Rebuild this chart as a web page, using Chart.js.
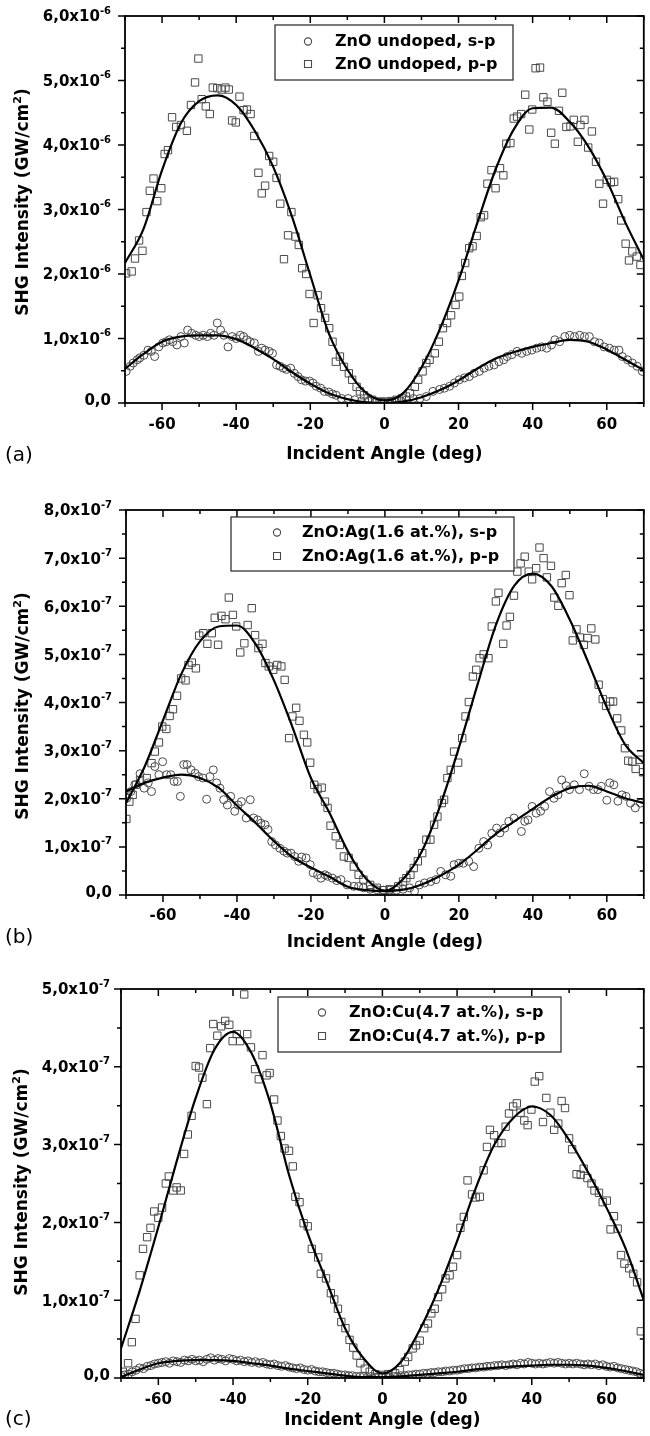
<!DOCTYPE html>
<html>
<head>
<meta charset="utf-8">
<script src="https://cdn.jsdelivr.net/npm/chart.js@4.4.0/dist/chart.umd.min.js"></script>
<style>
  body { margin: 0; background: #fff; }
  canvas { position: absolute; left: 0; }
</style>
</head>
<body>
<canvas id="chartA" width="650" height="470" style="top:0px"></canvas>
<canvas id="chartB" width="650" height="490" style="top:470px"></canvas>
<canvas id="chartC" width="650" height="486" style="top:950px"></canvas>
<script>
// common axis ticks
const xTicks = [-60, -40, -20, 0, 20, 40, 60];

// (a) ZnO undoped, values in 1e-6 GW/cm2, [angle, intensity]
const aYTicks = [0, 1, 2, 3, 4, 5, 6];
const aSP = [[-69.7,0.49],[-68.6,0.57],[-67.8,0.62],[-66.7,0.67],[-66.0,0.70],[-64.9,0.74],[-63.8,0.82],[-62.9,0.80],[-62.0,0.72],[-60.9,0.87],[-59.8,0.93],[-58.9,0.95],[-58.0,0.98],[-57.1,0.95],[-56.0,0.90],[-54.9,1.03],[-54.0,0.93],[-53.1,1.13],[-52.0,1.08],[-50.9,1.05],[-50.0,1.03],[-48.9,1.05],[-47.8,1.03],[-46.9,1.08],[-46.0,1.05],[-45.1,1.24],[-44.2,1.13],[-43.3,1.05],[-42.2,0.87],[-41.1,1.03],[-40.0,1.00],[-38.9,1.05],[-38.0,1.03],[-37.1,0.98],[-36.2,0.95],[-35.1,0.93],[-34.0,0.80],[-33.1,0.85],[-32.2,0.82],[-31.1,0.80],[-30.2,0.77],[-29.1,0.59],[-28.2,0.57],[-27.3,0.54],[-26.4,0.52],[-25.3,0.54],[-24.3,0.46],[-23.3,0.41],[-22.4,0.36],[-21.3,0.34],[-20.2,0.34],[-19.3,0.31],[-18.4,0.26],[-17.2,0.23],[-16.2,0.18],[-15.0,0.17],[-14.0,0.14],[-13.0,0.12],[-11.6,0.07],[-9.8,0.07],[-8.0,0.05],[-6.2,0.03],[-4.4,0.03],[-2.5,0.01],[-0.5,0.01],[1.5,0.01],[3.0,0.02],[4.5,0.03],[6.0,0.05],[7.8,0.07],[9.6,0.07],[11.3,0.10],[13.1,0.18],[14.9,0.21],[16.2,0.23],[17.6,0.26],[18.9,0.31],[20.2,0.36],[21.6,0.39],[22.9,0.41],[24.2,0.46],[25.6,0.49],[26.9,0.54],[28.2,0.57],[29.6,0.59],[30.9,0.64],[32.2,0.67],[33.1,0.72],[34.4,0.75],[35.8,0.80],[37.1,0.77],[38.4,0.80],[39.8,0.82],[41.1,0.85],[42.4,0.87],[43.8,0.85],[45.1,0.90],[46.0,0.98],[47.3,0.95],[48.7,1.03],[50.0,1.05],[51.3,1.03],[52.7,1.05],[54.0,1.03],[55.3,1.03],[56.7,0.95],[58.0,0.93],[59.3,0.87],[60.7,0.85],[62.0,0.82],[63.3,0.82],[64.2,0.72],[65.6,0.67],[66.9,0.62],[68.2,0.57],[69.6,0.49]];
const aPP = [[-69.7,2.01],[-68.2,2.04],[-67.3,2.24],[-66.2,2.52],[-65.3,2.36],[-64.2,2.96],[-63.3,3.29],[-62.3,3.48],[-61.3,3.13],[-60.2,3.33],[-59.3,3.86],[-58.4,3.92],[-57.3,4.43],[-56.2,4.28],[-54.9,4.31],[-53.3,4.22],[-52.2,4.62],[-51.1,4.97],[-50.2,5.34],[-49.3,4.71],[-48.2,4.60],[-47.1,4.48],[-46.3,4.89],[-45.1,4.88],[-43.9,4.86],[-42.9,4.89],[-42.0,4.86],[-41.1,4.38],[-40.1,4.35],[-39.1,4.75],[-38.0,4.54],[-37.1,4.55],[-36.1,4.48],[-35.1,4.14],[-34.0,3.57],[-33.1,3.25],[-32.2,3.37],[-31.1,3.83],[-30.0,3.74],[-29.1,3.49],[-28.1,3.09],[-27.1,2.23],[-26.0,2.60],[-25.1,2.96],[-24.0,2.58],[-23.1,2.45],[-22.2,2.09],[-21.1,2.00],[-20.2,1.69],[-19.1,1.24],[-18.0,1.67],[-17.1,1.47],[-16.0,1.32],[-14.9,1.16],[-14.0,0.95],[-13.1,0.64],[-12.0,0.72],[-10.9,0.56],[-9.6,0.46],[-8.7,0.36],[-7.5,0.25],[-6.6,0.18],[-5.5,0.12],[-4.5,0.07],[-3.3,0.05],[-2.0,0.02],[-1.0,0.02],[0.0,0.02],[1.0,0.02],[2.0,0.03],[3.3,0.05],[4.7,0.07],[5.8,0.10],[6.9,0.15],[8.2,0.25],[9.1,0.36],[10.3,0.49],[11.3,0.62],[12.2,0.67],[13.6,0.77],[14.7,0.95],[15.8,1.16],[16.9,1.24],[18.0,1.36],[19.2,1.52],[20.2,1.65],[20.9,1.97],[21.8,2.17],[22.9,2.40],[23.8,2.43],[24.9,2.59],[26.0,2.88],[26.9,2.91],[27.8,3.40],[28.9,3.61],[30.0,3.33],[31.2,3.64],[32.1,3.53],[32.9,4.02],[34.0,4.03],[34.9,4.41],[35.8,4.44],[36.9,4.48],[38.0,4.78],[39.1,4.24],[39.9,4.55],[40.8,5.19],[42.0,5.20],[42.9,4.74],[44.0,4.67],[45.0,4.19],[46.0,4.02],[47.1,4.53],[48.0,4.81],[49.1,4.28],[50.2,4.29],[51.1,4.39],[52.2,4.05],[52.9,4.31],[54.0,4.39],[55.0,3.96],[56.0,4.21],[57.1,3.74],[58.0,3.40],[59.0,3.09],[60.0,3.46],[61.1,3.42],[62.0,3.43],[63.1,3.16],[63.9,2.83],[65.1,2.47],[66.0,2.21],[66.9,2.35],[68.1,2.27],[69.1,2.14]];
const aFitSP = [[-70,0.53],[-65,0.76],[-60,0.95],[-55,1.03],[-50,1.05],[-45,1.05],[-40,0.99],[-35,0.85],[-30,0.68],[-25,0.48],[-20,0.30],[-15,0.15],[-10,0.06],[-5,0.01],[0,0.0],[5,0.02],[10,0.09],[15,0.20],[20,0.35],[25,0.53],[30,0.69],[35,0.79],[40,0.87],[45,0.93],[50,0.98],[55,0.95],[60,0.83],[65,0.67],[70,0.51]];
const aFitPP = [[-70,2.17],[-65,2.70],[-60,3.61],[-55,4.33],[-50,4.68],[-45,4.77],[-40,4.62],[-35,4.22],[-30,3.66],[-25,2.90],[-20,1.98],[-15,1.08],[-10,0.52],[-5,0.16],[0,0.04],[5,0.15],[10,0.55],[15,1.15],[20,1.90],[25,2.78],[30,3.62],[35,4.25],[40,4.57],[45,4.58],[50,4.36],[55,3.98],[60,3.45],[65,2.80],[70,2.22]];

// (b) ZnO:Ag(1.6 at.%), values in 1e-7 GW/cm2
const bYTicks = [0, 1, 2, 3, 4, 5, 6, 7, 8];
const bSP = [[-69.8,2.01],[-68.7,2.15],[-67.6,2.29],[-66.2,2.52],[-65.1,2.22],[-64.0,2.33],[-63.1,2.15],[-62.2,2.67],[-61.1,2.50],[-60.1,2.77],[-59.0,2.50],[-57.9,2.50],[-57.0,2.36],[-56.1,2.36],[-55.3,2.05],[-54.4,2.71],[-53.5,2.71],[-52.4,2.60],[-51.3,2.53],[-50.4,2.46],[-49.2,2.43],[-48.2,1.99],[-47.3,2.46],[-46.4,2.60],[-45.5,2.33],[-44.6,2.22],[-43.6,1.98],[-42.6,1.87],[-41.7,2.05],[-40.6,1.74],[-39.7,1.87],[-38.8,1.94],[-37.5,1.60],[-36.4,1.98],[-35.5,1.60],[-34.4,1.56],[-33.5,1.49],[-32.4,1.46],[-31.6,1.36],[-30.6,1.11],[-29.6,1.04],[-28.4,0.97],[-27.3,0.91],[-26.4,0.87],[-25.4,0.87],[-24.4,0.80],[-23.3,0.70],[-22.5,0.79],[-21.3,0.77],[-20.2,0.63],[-19.4,0.46],[-18.2,0.42],[-17.3,0.35],[-16.2,0.42],[-15.5,0.39],[-14.2,0.35],[-13.0,0.30],[-11.9,0.32],[-10.2,0.21],[-8.4,0.18],[-7.1,0.18],[-5.8,0.15],[-4.0,0.12],[-2.2,0.11],[-0.4,0.10],[1.3,0.10],[3.1,0.10],[4.9,0.12],[6.7,0.15],[8.0,0.08],[9.3,0.21],[10.7,0.25],[12.4,0.28],[13.8,0.32],[15.1,0.49],[16.4,0.42],[17.8,0.39],[18.7,0.63],[20.0,0.66],[21.2,0.66],[22.7,0.70],[24.0,0.59],[25.4,0.97],[26.7,1.11],[27.8,1.04],[28.9,1.28],[30.2,1.39],[31.1,1.29],[32.4,1.39],[33.5,1.53],[34.9,1.60],[36.9,1.32],[37.8,1.53],[38.7,1.56],[39.8,1.84],[40.9,1.70],[42.1,1.74],[43.2,1.84],[44.5,2.15],[45.7,2.01],[46.8,2.08],[47.8,2.39],[49.0,2.27],[49.9,2.19],[51.2,2.29],[52.6,2.19],[53.9,2.52],[55.2,2.26],[56.4,2.19],[57.6,2.19],[58.5,2.26],[60.0,1.97],[60.8,2.33],[61.9,2.29],[63.0,1.95],[64.1,2.08],[65.2,2.05],[66.4,1.91],[67.7,1.81],[69.1,1.91]];
const bPP = [[-69.9,1.58],[-69.1,1.94],[-68.2,2.08],[-67.3,2.29],[-66.2,2.39],[-64.4,2.43],[-63.1,2.74],[-62.2,2.98],[-61.1,3.17],[-60.2,3.50],[-59.1,3.45],[-58.2,3.72],[-57.3,3.86],[-56.2,4.14],[-55.1,4.50],[-53.9,4.46],[-53.1,4.78],[-52.2,4.83],[-51.1,4.71],[-50.2,5.39],[-49.1,5.44],[-48.0,5.22],[-46.8,5.44],[-46.0,5.76],[-45.1,5.20],[-44.2,5.80],[-43.1,5.73],[-42.2,6.18],[-41.1,5.82],[-40.2,5.58],[-39.1,5.04],[-38.0,5.23],[-37.1,5.61],[-36.0,5.96],[-35.1,5.40],[-34.2,5.13],[-33.1,5.22],[-32.3,4.82],[-31.4,4.75],[-30.2,4.68],[-29.1,4.78],[-28.0,4.75],[-27.1,4.47],[-25.9,3.26],[-25.0,3.71],[-24.0,3.89],[-23.1,3.62],[-21.9,3.33],[-21.0,3.17],[-20.2,2.75],[-19.1,2.29],[-18.2,2.20],[-17.1,2.23],[-16.2,1.94],[-15.5,1.81],[-14.7,1.44],[-13.3,1.22],[-12.2,1.04],[-11.1,0.80],[-9.8,0.77],[-8.4,0.59],[-7.1,0.42],[-5.8,0.32],[-4.0,0.21],[-2.2,0.15],[-0.4,0.10],[1.3,0.12],[3.6,0.18],[4.9,0.28],[5.8,0.35],[6.9,0.42],[7.8,0.56],[8.9,0.70],[10.1,0.87],[11.2,1.15],[12.3,1.15],[13.3,1.46],[14.2,1.63],[15.4,1.91],[16.0,1.98],[16.9,2.43],[17.8,2.60],[18.7,2.98],[19.8,2.75],[20.9,3.26],[21.8,3.71],[22.7,4.01],[23.8,4.54],[24.7,4.68],[25.6,4.92],[26.7,5.00],[28.0,4.92],[28.9,5.58],[30.0,6.10],[30.7,6.28],[32.0,5.22],[32.9,5.60],[33.8,5.78],[34.9,6.22],[35.8,6.72],[36.7,6.89],[37.8,7.03],[38.9,6.72],[39.8,6.56],[40.9,6.79],[41.8,7.22],[42.9,7.00],[43.8,6.60],[44.9,6.84],[45.8,6.18],[46.9,6.01],[47.8,6.48],[48.9,6.65],[49.9,6.23],[50.8,5.29],[51.8,5.52],[52.7,5.35],[53.8,5.20],[54.8,5.34],[55.8,5.54],[56.9,5.31],[57.8,4.37],[58.9,4.07],[59.8,3.93],[60.9,4.02],[61.7,4.02],[62.8,3.67],[63.9,3.42],[64.9,3.05],[65.8,2.79],[66.9,2.77],[67.8,2.62],[68.9,2.81],[69.8,2.55]];
const bFitSP = [[-70,2.15],[-65,2.33],[-60,2.44],[-55,2.50],[-50,2.43],[-45,2.23],[-40,1.86],[-35,1.50],[-30,1.12],[-25,0.79],[-20,0.57],[-15,0.38],[-10,0.17],[-5,0.10],[0,0.08],[5,0.11],[10,0.22],[15,0.40],[20,0.63],[25,0.94],[30,1.27],[35,1.53],[40,1.79],[45,2.04],[50,2.22],[55,2.27],[60,2.15],[65,2.01],[70,1.91]];
const bFitPP = [[-70,1.91],[-65,2.66],[-60,3.63],[-55,4.60],[-50,5.27],[-45,5.58],[-40,5.60],[-35,5.22],[-30,4.46],[-25,3.49],[-20,2.43],[-15,1.71],[-10,0.91],[-5,0.33],[0,0.09],[5,0.34],[10,0.91],[15,1.87],[20,3.06],[25,4.36],[30,5.61],[35,6.43],[40,6.68],[45,6.42],[50,5.72],[55,4.83],[60,3.90],[65,3.12],[70,2.74]];

// (c) ZnO:Cu(4.7 at.%), values in 1e-7 GW/cm2
const cYTicks = [0, 1, 2, 3, 4, 5];
const cSP = [[-70,0.02],[-69,0.04],[-68,0.05],[-67,0.08],[-66,0.10],[-65,0.13],[-64,0.12],[-63,0.15],[-62,0.16],[-61,0.18],[-60,0.19],[-59,0.20],[-58,0.21],[-57,0.19],[-56,0.22],[-55,0.21],[-54,0.20],[-53,0.23],[-52,0.22],[-51,0.24],[-50,0.22],[-49,0.23],[-48,0.21],[-47,0.24],[-46,0.26],[-45,0.23],[-44,0.25],[-43,0.24],[-42,0.22],[-41,0.25],[-40,0.24],[-39,0.22],[-38,0.23],[-37,0.21],[-36,0.22],[-35,0.20],[-34,0.21],[-33,0.19],[-32,0.20],[-31,0.18],[-30,0.17],[-29,0.18],[-28,0.16],[-27,0.15],[-26,0.16],[-25,0.14],[-24,0.13],[-23,0.12],[-22,0.13],[-21,0.11],[-20,0.10],[-19,0.11],[-18,0.09],[-17,0.08],[-16,0.08],[-15,0.07],[-14,0.06],[-13,0.06],[-12,0.05],[-11,0.04],[-10,0.04],[-9,0.03],[-8,0.03],[-7,0.02],[-6,0.02],[-5,0.02],[-4,0.01],[-3,0.02],[-2,0.01],[-1,0.01],[0,0.01],[1,0.02],[2,0.01],[3,0.02],[4,0.02],[5,0.03],[6,0.03],[7,0.04],[8,0.04],[9,0.05],[10,0.05],[11,0.06],[12,0.06],[13,0.07],[14,0.07],[15,0.08],[16,0.08],[17,0.09],[18,0.09],[19,0.10],[20,0.10],[21,0.11],[22,0.12],[23,0.12],[24,0.13],[25,0.13],[26,0.14],[27,0.14],[28,0.15],[29,0.15],[30,0.16],[31,0.16],[32,0.17],[33,0.16],[34,0.17],[35,0.18],[36,0.17],[37,0.19],[38,0.18],[39,0.20],[40,0.19],[41,0.18],[42,0.19],[43,0.18],[44,0.19],[45,0.20],[46,0.19],[47,0.20],[48,0.19],[49,0.18],[50,0.19],[51,0.18],[52,0.19],[53,0.18],[54,0.17],[55,0.18],[56,0.17],[57,0.18],[58,0.16],[59,0.17],[60,0.15],[61,0.14],[62,0.15],[63,0.13],[64,0.12],[65,0.11],[66,0.10],[67,0.09],[68,0.08],[69,0.06],[70,0.05]];
const cPP = [[-69.5,0.08],[-68.1,0.19],[-67.1,0.46],[-66.1,0.76],[-65.0,1.32],[-64.1,1.66],[-63.0,1.81],[-62.1,1.93],[-61.1,2.14],[-60.0,2.06],[-59.0,2.19],[-58.0,2.50],[-57.2,2.59],[-56.0,2.41],[-55.1,2.45],[-54.0,2.41],[-53.1,2.88],[-52.1,3.13],[-51.1,3.37],[-50.0,4.01],[-49.1,3.99],[-48.2,3.86],[-47.0,3.52],[-46.1,4.24],[-45.3,4.55],[-44.2,4.40],[-43.2,4.52],[-42.1,4.59],[-41.0,4.54],[-40.1,4.33],[-39.0,4.42],[-38.1,4.33],[-37.0,4.93],[-36.2,4.42],[-35.2,4.25],[-34.1,3.97],[-33.1,3.84],[-32.1,4.15],[-31.0,3.89],[-30.2,3.92],[-29.0,3.58],[-28.1,3.31],[-27.2,3.11],[-26.2,2.95],[-25.0,2.92],[-24.0,2.72],[-23.3,2.33],[-22.2,2.26],[-21.1,1.99],[-20.0,1.95],[-18.9,1.66],[-17.2,1.55],[-16.5,1.34],[-15.1,1.28],[-13.8,1.09],[-12.9,1.01],[-11.9,0.89],[-11.0,0.72],[-9.9,0.64],[-8.8,0.49],[-7.8,0.39],[-6.9,0.29],[-5.9,0.19],[-4.7,0.12],[-3.4,0.08],[-1.9,0.05],[-0.1,0.04],[1.6,0.05],[3.4,0.06],[4.7,0.10],[6.0,0.21],[6.9,0.27],[8.1,0.38],[9.0,0.42],[10.0,0.48],[11.2,0.64],[12.2,0.70],[13.1,0.83],[14.0,0.89],[14.9,1.04],[16.0,1.14],[16.9,1.28],[18.0,1.32],[18.9,1.43],[20.0,1.58],[20.9,1.93],[21.8,2.07],[22.8,2.54],[24.0,2.36],[25.0,2.32],[26.1,2.33],[27.1,2.67],[28.0,2.97],[28.8,3.19],[29.9,3.12],[31.0,3.02],[31.9,3.02],[33.0,3.23],[33.9,3.40],[35.0,3.49],[36.0,3.53],[37.0,3.41],[38.0,3.31],[38.9,3.25],[39.9,3.45],[40.8,3.81],[42.0,3.88],[43.0,3.29],[43.9,3.60],[45.0,3.41],[46.0,3.19],[47.1,3.27],[48.0,3.56],[48.9,3.47],[50.0,3.08],[50.8,2.94],[52.0,2.62],[53.1,2.61],[53.9,2.69],[54.9,2.57],[56.0,2.50],[56.8,2.41],[58.0,2.38],[59.0,2.26],[60.1,2.28],[61.1,1.91],[62.0,2.08],[63.0,1.92],[63.9,1.58],[64.8,1.47],[66.1,1.41],[67.2,1.34],[68.2,1.23],[69.2,0.60]];
const cFitSP = [[-70,0.01],[-65,0.11],[-60,0.19],[-55,0.22],[-50,0.23],[-45,0.23],[-40,0.22],[-35,0.19],[-30,0.16],[-25,0.12],[-20,0.09],[-15,0.06],[-10,0.03],[-5,0.01],[0,0.01],[5,0.02],[10,0.04],[15,0.06],[20,0.08],[25,0.11],[30,0.13],[35,0.15],[40,0.16],[45,0.17],[50,0.17],[55,0.16],[60,0.13],[65,0.09],[70,0.04]];
const cFitPP = [[-70,0.38],[-65,1.12],[-60,1.94],[-55,2.80],[-50,3.60],[-45,4.22],[-40,4.45],[-35,4.17],[-30,3.53],[-25,2.61],[-20,1.86],[-15,1.25],[-10,0.64],[-5,0.25],[0,0.06],[5,0.21],[10,0.62],[15,1.14],[20,1.76],[25,2.44],[30,3.00],[35,3.34],[40,3.49],[45,3.38],[50,3.06],[55,2.65],[60,2.19],[65,1.68],[70,1.00]];

Chart.defaults.font.family = '"DejaVu Sans"';
Chart.defaults.color = '#000';

const FONT = '"DejaVu Sans"';
const markerColor = '#4a4a4a';

// frame, ticks, y labels, y title, panel letter and legend
const panelDecor = {
    id: 'panelDecor',
    afterDatasetsDraw(chart, args, o) {
        const { ctx, chartArea: a, scales: { x, y } } = chart;
        ctx.save();

        // tick marks: outward on bottom/left, inward on top/right
        const halfSteps = (vals, lo, hi) => {
            const step = vals[1] - vals[0];
            const out = [];
            vals.forEach(v => {
                [v - step / 2, v + step / 2].forEach(m => {
                    if (m >= lo && m <= hi && !out.includes(m)) out.push(m);
                });
            });
            return out;
        };
        const xMaj = x.ticks.map(t => t.value);
        const yMaj = y.ticks.map(t => t.value);
        const xMin = halfSteps(xMaj, x.min, x.max);
        const yMin = halfSteps(yMaj, y.min, y.max);
        ctx.strokeStyle = '#000';
        ctx.lineWidth = 1.5;
        ctx.beginPath();
        const xt = (v, len) => {
            const px = x.getPixelForValue(v);
            ctx.moveTo(px, a.bottom); ctx.lineTo(px, a.bottom + len);
            ctx.moveTo(px, a.top); ctx.lineTo(px, a.top + len);
        };
        const yt = (v, len) => {
            const py = y.getPixelForValue(v);
            ctx.moveTo(a.left, py); ctx.lineTo(a.left - len, py);
            ctx.moveTo(a.right, py); ctx.lineTo(a.right - len, py);
        };
        xMaj.forEach(v => xt(v, 7));
        xMin.forEach(v => xt(v, 4));
        yMaj.forEach(v => yt(v, 7));
        yMin.forEach(v => yt(v, 4));
        ctx.stroke();

        ctx.lineWidth = 1.8;
        ctx.strokeRect(a.left, a.top, a.right - a.left, a.bottom - a.top);

        // y tick labels with superscript exponent
        ctx.fillStyle = '#000';
        ctx.textBaseline = 'middle';
        const right = a.left - o.labelGap;
        yMaj.forEach(v => {
            const py = y.getPixelForValue(v);
            if (v === 0) {
                ctx.font = 'bold 15px ' + FONT;
                ctx.textAlign = 'right';
                ctx.fillText('0,0', right, py - 2);
                return;
            }
            ctx.font = 'bold 10px ' + FONT;
            const ws = ctx.measureText(o.exp).width;
            ctx.textAlign = 'left';
            ctx.fillText(o.exp, right - ws, py - 5);
            ctx.font = 'bold 15px ' + FONT;
            ctx.textAlign = 'right';
            ctx.fillText(v.toFixed(1).replace('.', ',') + 'x10', right - ws, py + 1.5);
        });

        // y axis title
        ctx.save();
        ctx.translate(o.titleX, o.titleY);
        ctx.rotate(-Math.PI / 2);
        const t1 = 'SHG Intensity (GW/cm', t2 = '2', t3 = ')';
        ctx.font = 'bold 17px ' + FONT;
        const w1 = ctx.measureText(t1).width, w3 = ctx.measureText(t3).width;
        ctx.font = 'bold 11px ' + FONT;
        const w2 = ctx.measureText(t2).width;
        let sx = -(w1 + w2 + w3) / 2;
        ctx.textAlign = 'left';
        ctx.font = 'bold 17px ' + FONT;
        ctx.fillText(t1, sx, 0);
        ctx.font = 'bold 11px ' + FONT;
        ctx.fillText(t2, sx + w1, -6);
        ctx.font = 'bold 17px ' + FONT;
        ctx.fillText(t3, sx + w1 + w2, 0);
        ctx.restore();

        // panel letter
        ctx.font = '20px ' + FONT;
        ctx.textAlign = 'left';
        ctx.fillText(o.letter, 5, o.letterY);

        // legend box
        const L = o.legend;
        ctx.fillStyle = '#fff';
        ctx.fillRect(L.x1, L.y1, L.x2 - L.x1, L.y2 - L.y1);
        ctx.strokeStyle = '#333';
        ctx.lineWidth = 1.3;
        ctx.strokeRect(L.x1, L.y1, L.x2 - L.x1, L.y2 - L.y1);
        chart.data.datasets.slice(0, 2).forEach((ds, i) => {
            const cy = L.rows[i];
            ctx.strokeStyle = ds.borderColor;
            ctx.lineWidth = 1.1;
            ctx.beginPath();
            if (ds.pointStyle === 'circle') {
                ctx.arc(L.markerX, cy, 3.6, 0, Math.PI * 2);
            } else {
                ctx.rect(L.markerX - 3.5, cy - 3.5, 7, 7);
            }
            ctx.stroke();
            ctx.fillStyle = '#000';
            ctx.font = 'bold 16px ' + FONT;
            ctx.textAlign = 'left';
            ctx.fillText(ds.label, L.textX, cy + 0.5);
        });
        ctx.restore();
    }
};

function makePanel(p) {
    const ctx = document.getElementById(p.id).getContext('2d');
    const H = ctx.canvas.height;
    new Chart(ctx, {
        type: 'scatter',
        data: {
            datasets: [
                {
                    label: p.labels[0],
                    data: p.sp,
                    pointStyle: 'circle',
                    pointRadius: 4,
                    borderColor: markerColor,
                    backgroundColor: 'rgba(0,0,0,0)',
                    borderWidth: 1,
                    order: 2
                },
                {
                    label: p.labels[1],
                    data: p.pp,
                    pointStyle: 'rect',
                    pointRadius: 5.2,
                    borderColor: markerColor,
                    backgroundColor: 'rgba(0,0,0,0)',
                    borderWidth: 1,
                    order: 2
                },
                {
                    label: 'fit s-p',
                    data: p.fitSp,
                    showLine: true,
                    pointRadius: 0,
                    borderColor: '#000',
                    borderWidth: 2.2,
                    cubicInterpolationMode: 'monotone',
                    order: 1
                },
                {
                    label: 'fit p-p',
                    data: p.fitPp,
                    showLine: true,
                    pointRadius: 0,
                    borderColor: '#000',
                    borderWidth: 2.2,
                    cubicInterpolationMode: 'monotone',
                    order: 1
                }
            ]
        },
        options: {
            responsive: false,
            animation: false,
            events: [],
            layout: { padding: { top: p.plot.top, right: 1, left: 0, bottom: 0 } },
            plugins: {
                legend: { display: false },
                tooltip: { enabled: false },
                panelDecor: p.decor
            },
            scales: {
                x: {
                    type: 'linear',
                    min: -70,
                    max: 70,
                    afterBuildTicks: s => { s.ticks = xTicks.map(v => ({ value: v })); },
                    afterFit: s => { s.height = H - p.plot.bottom; },
                    grid: { display: false, drawTicks: false },
                    border: { display: false },
                    ticks: { padding: p.xLabelPad, color: '#000', font: { size: 15, weight: 'bold' } },
                    title: {
                        display: true,
                        text: 'Incident Angle (deg)',
                        color: '#000',
                        font: { size: 17, weight: 'bold' },
                        padding: { top: 0, bottom: p.xTitlePad }
                    }
                },
                y: {
                    type: 'linear',
                    min: 0,
                    max: p.yTicks[p.yTicks.length - 1],
                    afterBuildTicks: s => { s.ticks = p.yTicks.map(v => ({ value: v })); },
                    afterFit: s => { s.width = p.plot.left; },
                    grid: { display: false, drawTicks: false },
                    border: { display: false },
                    ticks: { display: false }
                }
            }
        },
        plugins: [panelDecor]
    });
}

makePanel({
    id: 'chartA',
    labels: ['ZnO undoped, s-p', 'ZnO undoped, p-p'],
    sp: aSP, pp: aPP, fitSp: aFitSP, fitPp: aFitPP, yTicks: aYTicks,
    plot: { left: 125, top: 16, bottom: 403 },
    xLabelPad: 13, xTitlePad: 5,
    decor: {
        exp: '-6', letter: '(a)', letterY: 456, labelGap: 14, titleX: 24, titleY: 202,
        legend: { x1: 275, y1: 25, x2: 513, y2: 80, rows: [41.5, 64], markerX: 308, textX: 335 }
    }
});

makePanel({
    id: 'chartB',
    labels: ['ZnO:Ag(1.6 at.%), s-p', 'ZnO:Ag(1.6 at.%), p-p'],
    sp: bSP, pp: bPP, fitSp: bFitSP, fitPp: bFitPP, yTicks: bYTicks,
    plot: { left: 126, top: 40, bottom: 425 },
    xLabelPad: 12, xTitlePad: 7,
    decor: {
        exp: '-7', letter: '(b)', letterY: 468, labelGap: 14, titleX: 24, titleY: 236,
        legend: { x1: 231, y1: 47, x2: 514, y2: 101, rows: [62.5, 86], markerX: 277, textX: 302 }
    }
});

makePanel({
    id: 'chartC',
    labels: ['ZnO:Cu(4.7 at.%), s-p', 'ZnO:Cu(4.7 at.%), p-p'],
    sp: cSP, pp: cPP, fitSp: cFitSP, fitPp: cFitPP, yTicks: cYTicks,
    plot: { left: 121, top: 39, bottom: 428 },
    xLabelPad: 13, xTitlePad: 5,
    decor: {
        exp: '-7', letter: '(c)', letterY: 470, labelGap: 11, titleX: 23, titleY: 232,
        legend: { x1: 278, y1: 47, x2: 561, y2: 102, rows: [62.5, 86], markerX: 322, textX: 349 }
    }
});
</script>
</body>
</html>
